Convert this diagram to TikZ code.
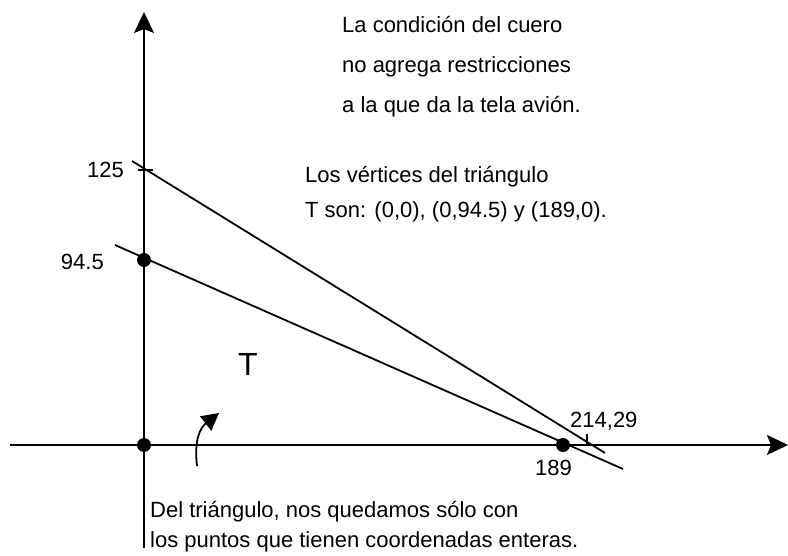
\documentclass[tikz,border=0pt]{standalone}
\usepackage{fontspec}
\setmainfont{Liberation Sans}
\usetikzlibrary{arrows.meta}
\begin{document}
\begin{tikzpicture}[x=1pt,y=-1pt,
  ln/.style={line width=1.8pt,black},
  axis/.style={ln,-{Stealth[length=21pt,width=20pt,inset=4pt]}},
  lbl/.style={inner sep=0pt,font=\fontsize{22}{26}\selectfont},
  dot/.style={circle,fill=black,inner sep=0pt,minimum size=14pt}]
\useasboundingbox (0,0) rectangle (788,556);
% axes
\coordinate (xs) at (10,445);
\coordinate (xe) at (788,445);
\coordinate (ys) at (144,548);
\coordinate (ye) at (144,12);
\draw[axis] (xs) -- (xe);
\draw[axis] (ys) -- (ye);
% lines
\coordinate (a1) at (132,161);
\coordinate (a2) at (605,453);
\coordinate (b1) at (115,245);
\coordinate (b2) at (623,469);
\draw[ln] (a1) -- (a2);
\draw[ln] (b1) -- (b2);
% ticks
\coordinate (t1) at (138,170);
\coordinate (t2) at (153,170);
\draw[ln] (t1) -- (t2);
\coordinate (u1) at (587,434);
\coordinate (u2) at (587,445);
\draw[ln] (u1) -- (u2);
% dots
\node[dot] (o) at (144,445) {};
\node[dot] (p) at (144,260) {};
\node[dot] (q) at (563,445) {};
% curved arrow
\coordinate (c1) at (197,466);
\coordinate (c2) at (219,413);
\draw[ln,-{Triangle[length=17pt,width=18pt]}] (c1) .. controls (194,440) and (200,428) .. (c2);
% labels
\node[lbl,anchor=base east] (l125) at (124,178) {125};
\node[lbl,anchor=base east] (l945) at (104,270) {94.5};
\node[lbl,anchor=base west] (l214) at (570,427) {214,29};
\node[lbl,anchor=base east] (l189) at (572,475) {189};
\node[inner sep=0pt,font=\fontsize{32}{36}\selectfont,anchor=base west] (T) at (238,376) {T};
\node[lbl,anchor=base west] (t1a) at (342,33) {La condición del cuero};
\node[lbl,anchor=base west] (t1b) at (342,73) {no agrega restricciones};
\node[lbl,anchor=base west] (t1c) at (342,113) {a la que da la tela avión.};
\node[lbl,anchor=base west] (t2a) at (305,183) {Los vértices del triángulo};
\node[lbl,anchor=base west] (t2b) at (305,218) {T son: (0,0), (0,94.5) y (189,0).};
\node[lbl,anchor=base west] (t3a) at (150,517) {Del triángulo, nos quedamos sólo con};
\node[lbl,anchor=base west] (t3b) at (150,547) {los puntos que tienen coordenadas enteras.};
\end{tikzpicture}
\end{document}
